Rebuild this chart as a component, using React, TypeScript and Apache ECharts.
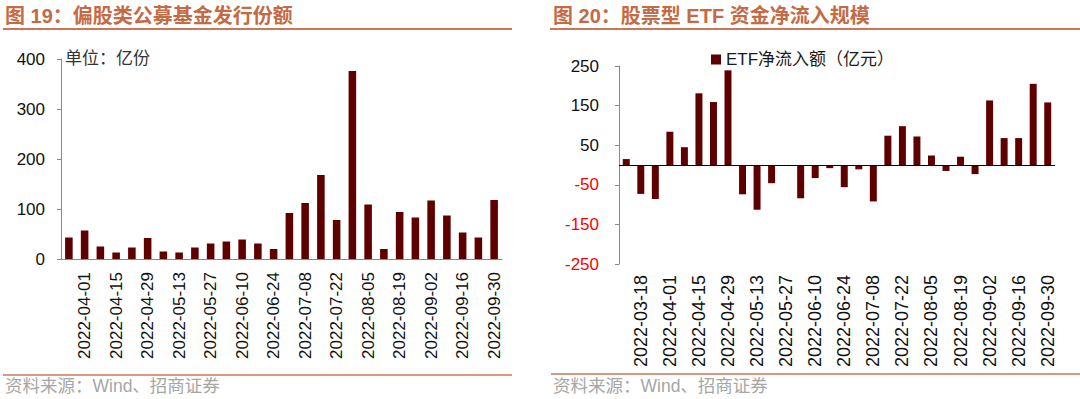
import React, { useEffect, useRef } from 'react';
import * as echarts from 'echarts';

const leftDates = [
  '2022-03-25', '2022-04-01', '2022-04-08', '2022-04-15', '2022-04-22', '2022-04-29',
  '2022-05-06', '2022-05-13', '2022-05-20', '2022-05-27', '2022-06-03', '2022-06-10',
  '2022-06-17', '2022-06-24', '2022-07-01', '2022-07-08', '2022-07-15', '2022-07-22',
  '2022-07-29', '2022-08-05', '2022-08-12', '2022-08-19', '2022-08-26', '2022-09-02',
  '2022-09-09', '2022-09-16', '2022-09-23', '2022-09-30',
];
const leftValues = [
  43, 57, 25, 13, 23, 42, 15, 13, 23, 31, 35, 39, 31, 20,
  92, 112, 168, 78, 376, 109, 20, 94, 83, 117, 87, 53, 43, 118,
];
const leftTicks = [0, 100, 200, 300, 400];

const rightDates = [
  '2022-03-11', '2022-03-18', '2022-03-25', '2022-04-01', '2022-04-08', '2022-04-15',
  '2022-04-22', '2022-04-29', '2022-05-06', '2022-05-13', '2022-05-20', '2022-05-27',
  '2022-06-03', '2022-06-10', '2022-06-17', '2022-06-24', '2022-07-01', '2022-07-08',
  '2022-07-15', '2022-07-22', '2022-07-29', '2022-08-05', '2022-08-12', '2022-08-19',
  '2022-08-26', '2022-09-02', '2022-09-09', '2022-09-16', '2022-09-23', '2022-09-30',
];
const rightValues = [
  15, -73, -86, 84, 45, 181, 159, 239, -74, -113, -46, 0,
  -84, -33, -8, -56, -11, -92, 74, 98, 72, 24, -15, 21,
  -23, 163, 68, 68, 205, 158,
];
const rightTicks = [-250, -150, -50, 50, 150, 250];

const leftTitle = '图 19：偏股类公募基金发行份额';
const rightTitle = '图 20：股票型 ETF 资金净流入规模';
const unitText = '单位：亿份';
const legendName = 'ETF净流入额（亿元）';
const sourceText = '资料来源：Wind、招商证券';

const FONT = '"Liberation Sans", Arial, "Noto Sans CJK SC", sans-serif';
const TITLE_COLOR = '#c46a45';
const LINE_COLOR = '#c8775a';
const BAR_COLOR = '#5e0000';
const AXIS_COLOR = '#898989';

export default function App() {
  const ref = useRef<HTMLDivElement>(null);
  useEffect(() => {
    document.body.style.margin = '0';
    const chart = echarts.init(ref.current!, null, { renderer: 'svg' });
    chart.setOption({
      animation: false,
      backgroundColor: '#ffffff',
      textStyle: { fontFamily: FONT },
      grid: [
        { left: 61, top: 59, width: 441, height: 200 },
        { left: 619, top: 66, width: 436, height: 198 },
      ],
      legend: {
        show: true,
        data: [legendName],
        left: 706,
        top: 46,
        icon: 'rect',
        itemWidth: 10,
        itemHeight: 10,
        textStyle: { fontSize: 17, color: '#1a1a1a', fontFamily: FONT },
      },
      xAxis: [
        {
          type: 'category',
          gridIndex: 0,
          data: leftDates,
          axisLine: { show: true, lineStyle: { color: AXIS_COLOR, width: 1 } },
          axisTick: { show: false },
          axisLabel: {
            rotate: 90,
            interval: (i: number) => i % 2 === 1,
            margin: 13,
            fontSize: 17,
            color: '#111',
            fontFamily: FONT,
          },
        },
        {
          type: 'category',
          gridIndex: 1,
          data: rightDates,
          axisLine: { show: false, onZero: false },
          axisTick: { show: false },
          axisLabel: {
            rotate: 90,
            interval: (i: number) => i % 2 === 1,
            margin: 11,
            fontSize: 18,
            color: '#111',
            fontFamily: FONT,
          },
        },
      ],
      yAxis: [
        {
          type: 'value',
          gridIndex: 0,
          min: 0,
          max: 400,
          interval: 100,
          splitLine: { show: false },
          axisLine: { show: true, lineStyle: { color: AXIS_COLOR, width: 1 } },
          axisTick: { show: true, length: 4, lineStyle: { color: AXIS_COLOR } },
          axisLabel: {
            customValues: leftTicks,
            margin: 16,
            fontSize: 17,
            color: '#111',
            fontFamily: FONT,
          },
        },
        {
          type: 'value',
          gridIndex: 1,
          min: -250,
          max: 250,
          splitLine: { show: false },
          axisLine: { show: true, lineStyle: { color: AXIS_COLOR, width: 1 } },
          axisTick: { show: true, length: 4, customValues: rightTicks, lineStyle: { color: AXIS_COLOR } },
          axisLabel: {
            customValues: rightTicks,
            margin: 20,
            fontSize: 17,
            fontFamily: FONT,
            formatter: (v: number) => (v < 0 ? `{neg|${v}}` : `{pos|${v}}`),
            rich: {
              neg: { color: '#ff0000', fontSize: 17, fontFamily: FONT },
              pos: { color: '#111', fontSize: 17, fontFamily: FONT },
            },
          },
        },
      ],
      series: [
        {
          type: 'bar',
          name: '偏股类公募基金发行份额',
          xAxisIndex: 0,
          yAxisIndex: 0,
          data: leftValues,
          barWidth: '48%',
          itemStyle: { color: BAR_COLOR },
        },
        {
          type: 'bar',
          name: legendName,
          xAxisIndex: 1,
          yAxisIndex: 1,
          data: rightValues,
          barWidth: '48%',
          itemStyle: { color: BAR_COLOR },
          markLine: {
            silent: true,
            symbol: ['none', 'none'],
            label: { show: false },
            lineStyle: { color: '#000', type: 'solid', width: 1 },
            data: [{ yAxis: 0 }],
          },
        },
      ],
      graphic: [
        {
          type: 'text', left: 5, top: 6,
          style: { text: leftTitle, fill: TITLE_COLOR, font: `bold 20px ${FONT}` },
        },
        {
          type: 'line', shape: { x1: 3, y1: 29, x2: 512, y2: 29 },
          style: { stroke: LINE_COLOR, lineWidth: 2 },
        },
        {
          type: 'text', left: 553, top: 6,
          style: { text: rightTitle, fill: TITLE_COLOR, font: `bold 20px ${FONT}` },
        },
        {
          type: 'line', shape: { x1: 550, y1: 29, x2: 1080, y2: 29 },
          style: { stroke: LINE_COLOR, lineWidth: 2 },
        },
        {
          type: 'text', left: 65, top: 50,
          style: { text: unitText, fill: '#333', font: `17px ${FONT}` },
        },
        {
          type: 'line', shape: { x1: 3, y1: 375, x2: 512, y2: 375 },
          style: { stroke: LINE_COLOR, lineWidth: 1.5 },
        },
        {
          type: 'text', left: 5, top: 377,
          style: { text: sourceText, fill: '#a6a6a6', font: `17.5px ${FONT}` },
        },
        {
          type: 'line', shape: { x1: 551, y1: 374, x2: 1080, y2: 374 },
          style: { stroke: LINE_COLOR, lineWidth: 1.5 },
        },
        {
          type: 'text', left: 553, top: 377,
          style: { text: sourceText, fill: '#a6a6a6', font: `17.5px ${FONT}` },
        },
      ],
    });
    return () => chart.dispose();
  }, []);
  return <div ref={ref} style={{ width: 1080, height: 399 }} />;
}
